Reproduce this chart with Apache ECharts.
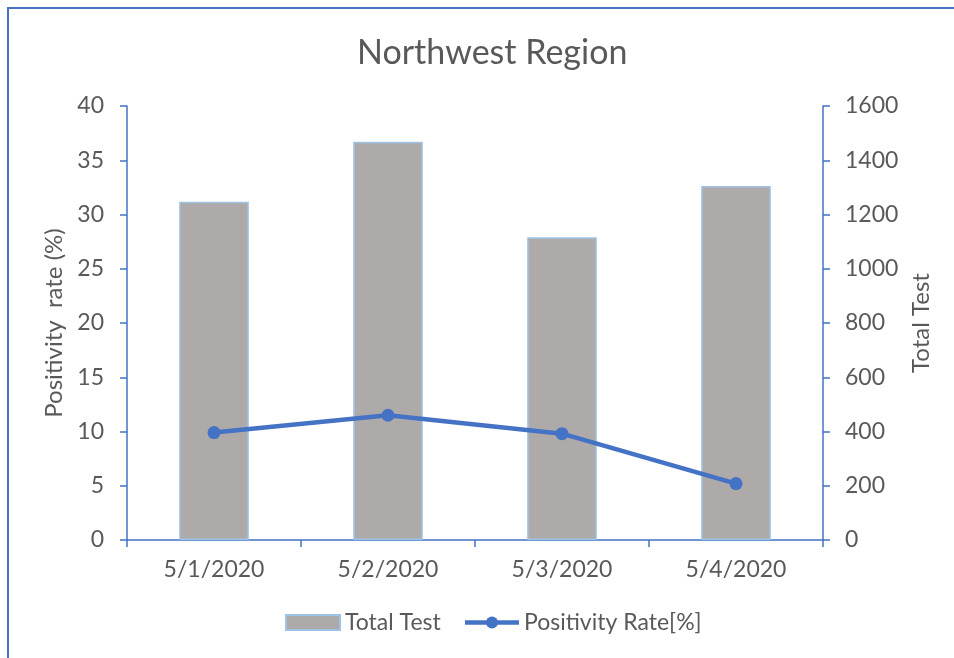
<!DOCTYPE html>
<html>
<head>
<meta charset="utf-8">
<script src="https://cdn.jsdelivr.net/npm/echarts@6/dist/echarts.min.js"></script>
<style>
  html, body { margin: 0; padding: 0; background: #fff; overflow: hidden; width: 954px; height: 658px; }
  #frame {
    position: absolute; left: 7px; top: 7px; width: 947px; height: 651px;
    border-top: 2px solid #4472C4; border-left: 2px solid #4472C4;
    box-sizing: border-box;
  }
  #chart { position: absolute; left: 0; top: 0; width: 954px; height: 658px; }
</style>
</head>
<body>
<div id="frame"></div>
<div id="chart"></div>
<script>
// chart data
const dates = ["5/1/2020", "5/2/2020", "5/3/2020", "5/4/2020"]
const totalTest = [1247, 1468, 1116, 1305]
const positivityRate = [9.9, 11.5, 9.8, 5.2]

const textColor = "#595959"
const axisBlue = "#4472C4"
const font = "Lato, 'Open Sans', sans-serif"

const chart = echarts.init(document.getElementById("chart"))

chart.setOption({
  animation: false,
  textStyle: { fontFamily: font, color: textColor },
  title: {
    text: "Northwest Region",
    left: 352,
    top: 31,
    textStyle: { fontFamily: font, fontSize: 34, fontWeight: "normal", color: textColor }
  },
  legend: {
    bottom: 19,
    left: 280,
    itemWidth: 54,
    itemHeight: 15,
    itemGap: 22,
    textStyle: { fontFamily: font, fontSize: 23, color: textColor },
    data: [
      { name: "Total Test", icon: "rect" },
      { name: "Positivity Rate[%]", lineStyle: { width: 4.5 } }
    ]
  },
  grid: {
    left: 127,
    right: 131,
    top: 106,
    bottom: 118
  },
  xAxis: {
    type: "category",
    data: dates,
    axisLine: { lineStyle: { color: axisBlue, width: 1.5 } },
    axisTick: { show: true, length: 7, lineStyle: { color: axisBlue, width: 1.5 } },
    axisLabel: { fontSize: 23, color: textColor, margin: 18, fontFamily: font }
  },
  yAxis: [
    {
      type: "value",
      min: 0,
      max: 40,
      interval: 5,
      name: "Positivity  rate (%)",
      nameLocation: "middle",
      nameGap: 53,
      nameRotate: 90,
      nameTextStyle: { fontSize: 24, color: textColor, fontFamily: font },
      axisLine: { show: true, lineStyle: { color: axisBlue, width: 1.5 } },
      axisTick: { show: true, length: 7, lineStyle: { color: axisBlue, width: 1.5 } },
      axisLabel: { fontSize: 23, color: textColor, margin: 23, fontFamily: font },
      splitLine: { show: false }
    },
    {
      type: "value",
      min: 0,
      max: 1600,
      interval: 200,
      name: "Total Test",
      nameLocation: "middle",
      nameGap: 84,
      nameRotate: 90,
      nameTextStyle: { fontSize: 24, color: textColor, fontFamily: font },
      axisLine: { show: true, lineStyle: { color: axisBlue, width: 1.5 } },
      axisTick: { show: true, length: 7, lineStyle: { color: axisBlue, width: 1.5 } },
      axisLabel: { fontSize: 23, color: textColor, margin: 22, fontFamily: font, formatter: v => String(v) },
      splitLine: { show: false }
    }
  ],
  series: [
    {
      name: "Total Test",
      type: "bar",
      yAxisIndex: 1,
      barWidth: "40%",
      data: totalTest,
      itemStyle: { color: "#AEAAAA", borderColor: "#9DC3E6", borderWidth: 1.5 }
    },
    {
      name: "Positivity Rate[%]",
      type: "line",
      yAxisIndex: 0,
      data: positivityRate,
      symbol: "circle",
      symbolSize: 13,
      lineStyle: { color: axisBlue, width: 4.5 },
      itemStyle: { color: axisBlue }
    }
  ]
})
</script>
</body>
</html>
